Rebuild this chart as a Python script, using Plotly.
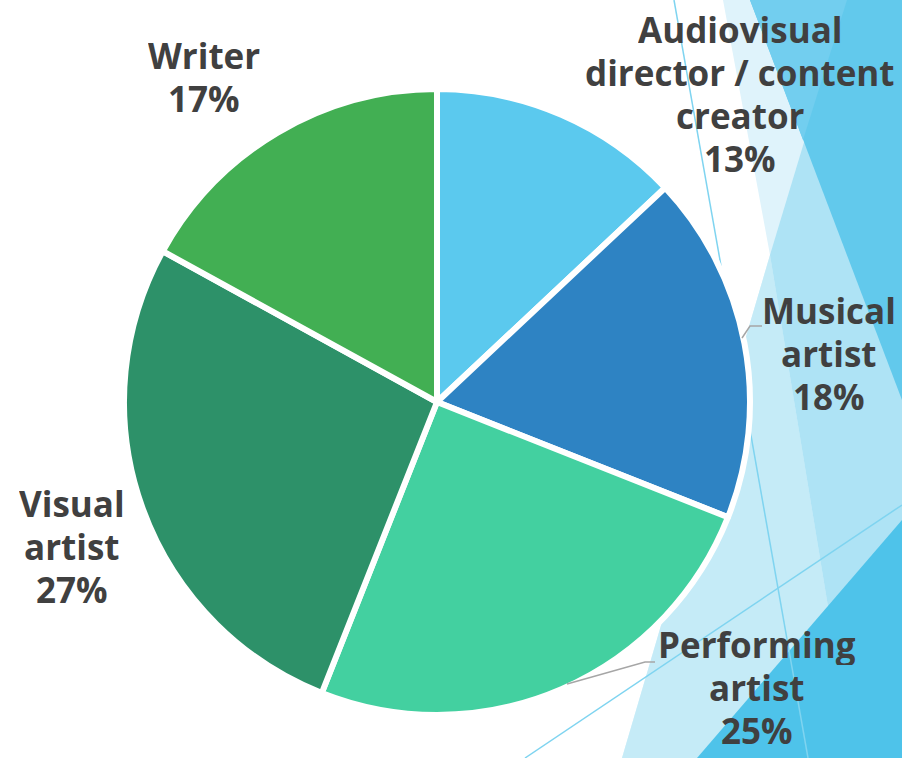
import plotly.graph_objects as go

# Survey shares by creative occupation
categories = [
    "Audiovisual director / content creator",
    "Musical artist",
    "Performing artist",
    "Visual artist",
    "Writer",
]
shares = [13, 18, 25, 27, 17]
label_lines = [
    ["Audiovisual", "director / content", "creator"],
    ["Musical", "artist"],
    ["Performing", "artist"],
    ["Visual", "artist"],
    ["Writer"],
]
slice_colors = ["#5BC9EE", "#2E83C3", "#43D0A0", "#2D9169", "#42AF53"]

W, H = 902, 758


def px(x, y):
    """Pixel position -> paper coordinates."""
    return x / W, 1 - y / H


def poly(points, color):
    parts = []
    for i, (x, y) in enumerate(points):
        u, v = px(x, y)
        parts.append(("M" if i == 0 else "L") + f"{u:.5f},{v:.5f}")
    return dict(type="path", xref="paper", yref="paper", layer="below",
                path=" ".join(parts) + " Z", fillcolor=color,
                line=dict(width=0))


def seg(points, color, width, layer="below"):
    parts = []
    for i, (x, y) in enumerate(points):
        u, v = px(x, y)
        parts.append(("M" if i == 0 else "L") + f"{u:.5f},{v:.5f}")
    return dict(type="path", xref="paper", yref="paper", layer=layer,
                path=" ".join(parts), line=dict(color=color, width=width))


# Faceted backdrop on the right edge
shapes = [
    poly([(723, 0), (902, 0), (902, 758), (622, 758), (770, 255)], "#DFF3FB"),
    poly([(770, 255), (853, 758), (622, 758)], "#C5EBF7"),
    poly([(847, 0), (902, 0), (902, 758), (853, 758), (770, 255)], "#AEE3F5"),
    poly([(750, 0), (902, 0), (902, 400)], "#62C9EC"),
    poly([(750, 0), (847, 0), (803, 140)], "#72CEEF"),
    poly([(902, 520), (902, 758), (697, 758)], "#4EC3EA"),
    seg([(674, 0), (808, 758)], "#7FD4F0", 1.5),
    seg([(525, 758), (902, 505)], "#7FD4F0", 1.5),
    # leader lines
    seg([(742, 338), (750, 326), (762, 326)], "#A6A6A6", 1.5, "above"),
    seg([(567, 684), (645, 662), (655, 662)], "#A6A6A6", 1.5, "above"),
]

# Pie geometry (pixels)
cx, cy, r = 437, 402, 313
x0, y1 = px(cx - r, cy - r)
x1, y0 = px(cx + r, cy + r)

fig = go.Figure(go.Pie(
    labels=categories,
    values=shares,
    sort=False,
    direction="clockwise",
    rotation=0,
    marker=dict(colors=slice_colors, line=dict(color="white", width=6)),
    textinfo="none",
    hoverinfo="label+percent",
    domain=dict(x=[x0, x1], y=[y0, y1]),
    showlegend=False,
))

# Label blocks: centre x and first baseline (pixels), 43 px line step
label_anchor = [(740, 42), (829, 323), (757, 657), (72, 516), (204, 68)]
line_step = 43
font_size = 35
annotations = []
for lines, val, (ax, ay) in zip(label_lines, shares, label_anchor):
    for k, txt in enumerate(lines + [f"{val}%"]):
        base = ay + k * line_step
        u, v = px(ax, base - 0.36 * font_size)
        annotations.append(dict(
            x=u, y=v, xref="paper", yref="paper", text=txt, showarrow=False,
            xanchor="center", yanchor="middle", height=line_step - 2,
            font=dict(family="Open Sans", size=font_size, color="#404040",
                      weight="bold"),
        ))

fig.update_layout(
    width=W, height=H,
    margin=dict(l=0, r=0, t=0, b=0),
    paper_bgcolor="white",
    plot_bgcolor="white",
    shapes=shapes,
    annotations=annotations,
)

fig.write_html("out.html")
